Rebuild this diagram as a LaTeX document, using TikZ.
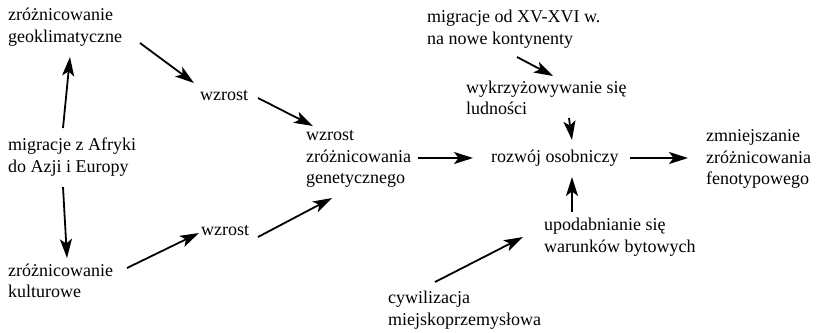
\documentclass[tikz,border=0pt]{standalone}
\usepackage{fontspec}
\setmainfont{Liberation Serif}
\usetikzlibrary{arrows.meta}
\tikzset{
  lbl/.style={anchor=west, inner sep=0pt, align=left,
    font=\fontsize{18bp}{21.5bp}\selectfont},
  arr/.style={line width=1.8bp, -{Stealth[length=19bp,width=12bp,inset=4.5bp]}}
}
\begin{document}
\begin{tikzpicture}[x=1bp,y=-1bp]
\useasboundingbox[fill=white] (0,0) rectangle (816,332);
\node[lbl] (geo)  at (8,27)    {zróżnicowanie\\geoklimatyczne};
\node[lbl] (w1)   at (200,96)  {wzrost};
\node[lbl] (migr) at (8,157)   {migracje z Afryki\\do Azji i Europy};
\node[lbl] (kult) at (8,281)   {zróżnicowanie\\kulturowe};
\node[lbl] (w2)   at (201,231) {wzrost};
\node[lbl] (gen)  at (306,159) {wzrost\\zróżnicowania\\genetycznego};
\node[lbl] (roz)  at (491,158) {rozwój osobniczy};
\node[lbl] (zmn)  at (706,159) {zmniejszanie\\zróżnicowania\\fenotypowego};
\node[lbl] (mxv)  at (427,29)  {migracje od XV-XVI w.\\na nowe kontynenty};
\node[lbl] (wyk)  at (466,98)  {wykrzyżowywanie się\\ludności};
\node[lbl] (upo)  at (544,237) {upodabnianie się\\warunków bytowych};
\node[lbl] (cyw)  at (388,310) {cywilizacja\\miejskoprzemysłowa};

\draw[arr] ([shift={(132,16)}]geo.west) -- ([shift={(-6,-13)}]w1.west);
\draw[arr] ([shift={(58,2)}]w1.west) -- ([shift={(7,-33)}]gen.west);
\draw[arr] ([shift={(55,-29)}]migr.west) -- ([shift={(62,30)}]geo.west);
\draw[arr] ([shift={(55,30)}]migr.west) -- ([shift={(59,-23)}]kult.west);
\draw[arr] ([shift={(119,-13)}]kult.west) -- ([shift={(-2,2)}]w2.west);
\draw[arr] ([shift={(57,6)}]w2.west) -- ([shift={(26,39)}]gen.west);
\draw[arr] ([shift={(112,-1)}]gen.west) -- ([shift={(-18,0)}]roz.west);
\draw[arr] ([shift={(139,0)}]roz.west) -- ([shift={(-18,-1)}]zmn.west);
\draw[arr] ([shift={(90,28)}]mxv.west) -- ([shift={(87,-22)}]wyk.west);
\draw[arr] ([shift={(103,20)}]wyk.west) -- ([shift={(81,-18)}]roz.west);
\draw[arr] ([shift={(28,-25)}]upo.west) -- ([shift={(81,19)}]roz.west);
\draw[arr] ([shift={(47,-28)}]cyw.west) -- ([shift={(-21,0)}]upo.west);
\end{tikzpicture}
\end{document}
